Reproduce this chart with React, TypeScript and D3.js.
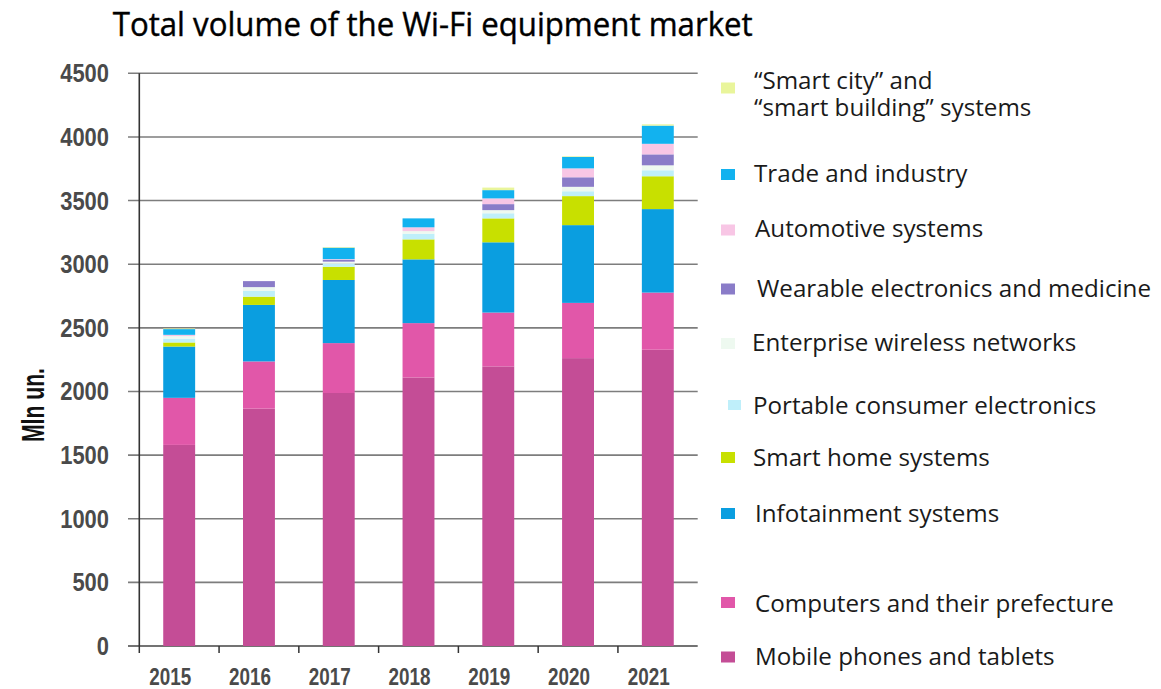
import React from 'react';
import * as d3 from 'd3';

// ---------- data ----------
const years = ['2015', '2016', '2017', '2018', '2019', '2020', '2021'];
const mobilePhonesTablets = [1580, 1865, 1988, 2110, 2197, 2262, 2328];
const computersPeripherals = [370, 371, 392, 427, 423, 434, 449];
const infotainmentSystems = [403, 444, 496, 501, 552, 611, 656];
const smartHomeSystems = [32, 65, 104, 157, 188, 228, 258];
const portableElectronics = [30, 45, 25, 45, 40, 38, 47];
const enterpriseWireless = [20, 30, 15, 20, 25, 35, 39];
const wearableMedicine = [0, 47, 15, 0, 47, 75, 86];
const automotiveSystems = [10, 0, 5, 30, 45, 70, 83];
const tradeIndustry = [45, 0, 90, 70, 65, 90, 143];
const smartCityBuilding = [5, 0, 5, 0, 20, 5, 10];
const yTickValues = [0, 500, 1000, 1500, 2000, 2500, 3000, 3500, 4000, 4500];

// stacking order, bottom -> top
const seriesKeys = ['mobile', 'computers', 'infotainment', 'smartHome', 'portable', 'enterprise', 'wearable', 'automotive', 'trade', 'smartCity'];
const seriesValues = [mobilePhonesTablets, computersPeripherals, infotainmentSystems, smartHomeSystems, portableElectronics, enterpriseWireless, wearableMedicine, automotiveSystems, tradeIndustry, smartCityBuilding];
const seriesLabels = [
  ['Mobile phones and tablets'],
  ['Computers and their prefecture'],
  ['Infotainment systems'],
  ['Smart home systems'],
  ['Portable consumer electronics'],
  ['Enterprise wireless networks'],
  ['Wearable electronics and medicine'],
  ['Automotive systems'],
  ['Trade and industry'],
  ['\u201CSmart city\u201D and', '\u201Csmart building\u201D systems'],
];

// ---------- styles / layout ----------
const seriesColors = ['#c44d96', '#e157a9', '#0a9ee0', '#c8e000', '#bfeffa', '#eef9f0', '#8a7cc8', '#f8c6e5', '#12b2ef', '#e9f59b'];
// legend row centres (bottom series first)
const legendRowY = [656, 603, 513, 457, 405, 342, 288, 228, 173, 80];
const legendTextX = [755, 755, 755, 753, 753, 752, 757, 755, 754, 754];
const legendSwatchX = [721, 721, 721, 721, 728, 721, 721, 721, 721, 721];
const legendSwatchY = [657, 602.5, 513.5, 457.5, 405, 343.5, 289, 230, 174.5, 88];

const W = 1161;
const H = 689;
const plotLeft = 139.3;
const plotRight = 697.7;
const plotTop = 73.3;
const plotBottom = 646;
const numFont = '"Liberation Sans", Arial, sans-serif';
const textFont = '"Open Sans", "Noto Sans", sans-serif';

export default function App() {
  const rows = years.map((y, i) => {
    const r: any = { year: y };
    seriesKeys.forEach((k, j) => (r[k] = seriesValues[j][i]));
    return r;
  });
  const stacked = d3.stack<any>().keys(seriesKeys)(rows);

  const x = d3.scaleBand<string>().domain(years).range([plotLeft, plotRight]).paddingInner(0.6).paddingOuter(0.3);
  const y = d3.scaleLinear().domain([0, 4500]).range([plotBottom, plotTop]);
  const step = x.step();
  const xTickPos = d3.range(years.length).map((i) => plotLeft + i * step);

  return (
    <svg width={W} height={H} style={{ position: 'absolute', left: 0, top: 0, background: '#fff' }}>
      <rect x={0} y={0} width={W} height={H} fill="#fff" />
      {/* title */}
      <text x={112.7} y={36} fontFamily={textFont} fontSize={32} fill="#000" stroke="#000" strokeWidth={0.4} textLength={640} lengthAdjust="spacingAndGlyphs">
        Total volume of the Wi-Fi equipment market
      </text>

      {/* gridlines + y ticks */}
      {yTickValues.map((v) => {
        const s = String(v);
        return (
          <g key={v}>
            <line x1={128} x2={plotRight} y1={y(v)} y2={y(v)} stroke={v === 0 ? '#444' : '#7d7d7d'} strokeWidth={1.6} />
            <text x={109} y={y(v)} dy="0.36em" textAnchor="end" fontFamily={numFont} fontWeight="bold" fontSize={25} fill="#4a4a4a" textLength={s.length * 12.2} lengthAdjust="spacingAndGlyphs">
              {s}
            </text>
          </g>
        );
      })}

      {/* bars */}
      {stacked.map((s, si) => (
        <g key={s.key} fill={seriesColors[si]}>
          {s.map((d, i) => {
            const h = y(d[0]) - y(d[1]);
            if (h <= 0) return null;
            return <rect key={i} x={x(years[i])} y={y(d[1])} width={x.bandwidth()} height={h} />;
          })}
        </g>
      ))}

      {/* y axis line */}
      <line x1={plotLeft} x2={plotLeft} y1={plotTop} y2={plotBottom} stroke="#333" strokeWidth={1.6} />
      {/* x axis ticks */}
      {xTickPos.map((p, i) => (
        <line key={i} x1={p} x2={p} y1={plotBottom} y2={plotBottom + 7} stroke="#333" strokeWidth={1.5} />
      ))}
      {/* x labels */}
      {years.map((yr) => (
        <text key={yr} x={(x(yr) as number) + x.bandwidth() / 2 - 9} y={685} textAnchor="middle" fontFamily={numFont} fontWeight="bold" fontSize={23} fill="#4a4a4a" textLength={42} lengthAdjust="spacingAndGlyphs">
          {yr}
        </text>
      ))}

      {/* y axis title */}
      <text transform="translate(33,405) rotate(-90)" textAnchor="middle" dy="0.35em" fontFamily={numFont} fontWeight="bold" fontSize={32} fill="#111" textLength={74} lengthAdjust="spacingAndGlyphs">
        Mln un.
      </text>

      {/* legend */}
      {seriesKeys.map((k, i) => {
        const lines = seriesLabels[i];
        const small = k === 'portable';
        return (
          <g key={k}>
            <rect x={legendSwatchX[i]} y={legendSwatchY[i] - (small ? 5 : 5.5)} width={small ? 13 : 14} height={small ? 10 : 11} fill={seriesColors[i]} />
            {lines.map((ln, li) => (
              <text key={li} x={legendTextX[i]} y={legendRowY[i] + li * 27} dy="0.36em" fontFamily={textFont} fontSize={24.2} fill="#1a1a1a">
                {ln}
              </text>
            ))}
          </g>
        );
      })}
    </svg>
  );
}
